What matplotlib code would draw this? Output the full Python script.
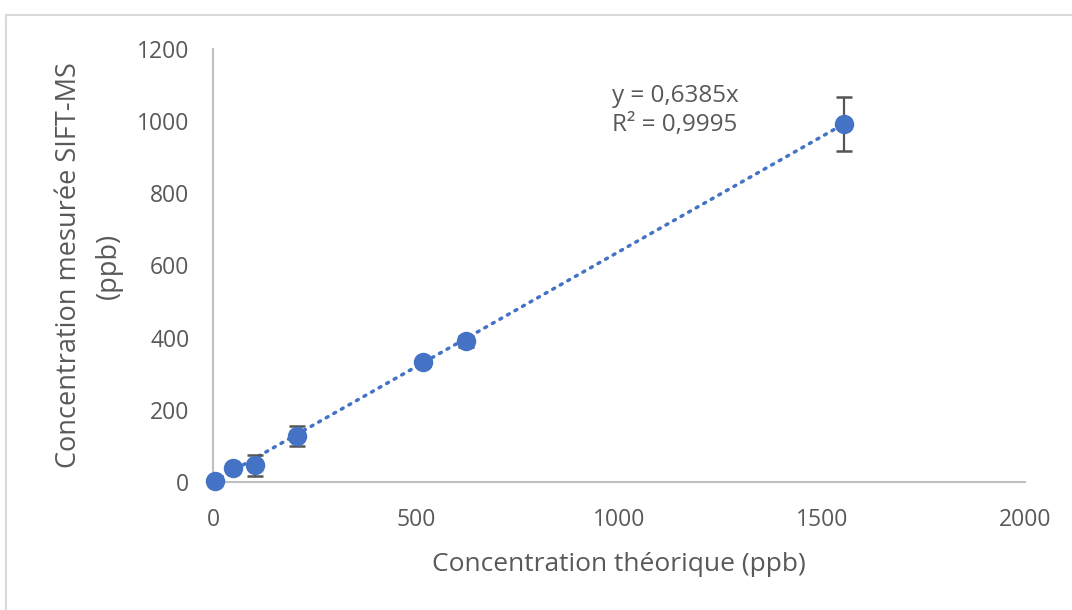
import matplotlib.pyplot as plt
from matplotlib.patches import Rectangle
import numpy as np

# ---- Data ----
conc_theo = [5, 50, 103, 207, 517, 623, 1554]
conc_mes = [3, 38, 46, 128, 332, 390, 992]
err_mes = [4, 8, 29, 28, 10, 15, 74]
slope = 0.6385
eq_text = "y = 0,6385x\nR² = 0,9995"

blue = '#4472C4'
grey_txt = '#595959'
axis_col = '#BFBFBF'

plt.rcParams['font.family'] = ['Open Sans', 'DejaVu Sans']

fig = plt.figure(figsize=(10.72, 6.1), dpi=100)
ax = fig.add_axes([213 / 1072, 1 - 482 / 610, (1025 - 213) / 1072, (482 - 49) / 610])

# chart frame (light grey, top and left visible)
fig.add_artist(Rectangle((6 / 1072, -0.1), 1.2, 1 - 15 / 610 + 0.1,
                         transform=fig.transFigure, fill=False,
                         edgecolor='#D9D9D9', linewidth=1.5))

# trendline through origin
xt = np.array([0, max(conc_theo)])
ax.plot(xt, slope * xt, linestyle=(0, (0.6, 1.9)), dash_capstyle='round',
        color=blue, linewidth=2.5, zorder=2)

ax.errorbar(conc_theo, conc_mes, yerr=err_mes, fmt='o', color=blue,
            markersize=13, ecolor='#555555', elinewidth=1.6, capsize=5.5,
            capthick=1.8, zorder=3, clip_on=False)

ax.set_xlim(0, 2000)
ax.set_ylim(0, 1200)
ax.set_xticks(range(0, 2001, 500))
ax.set_yticks(range(0, 1201, 200))
ax.tick_params(length=0, labelsize=16.5, labelcolor=grey_txt)
ax.tick_params(axis='y', pad=17)
ax.tick_params(axis='x', pad=19)

for s in ['top', 'right']:
    ax.spines[s].set_visible(False)
for s in ['left', 'bottom']:
    ax.spines[s].set_color(axis_col)
    ax.spines[s].set_linewidth(1.5)

ax.set_xlabel('Concentration théorique (ppb)', fontsize=19, color=grey_txt, labelpad=14)
ax.set_ylabel('Concentration mesurée SIFT-MS\n(ppb)', fontsize=19.5, color=grey_txt,
              labelpad=10, linespacing=1.6)

ax.text(983, 1030, eq_text, fontsize=17.5, color=grey_txt, va='center',
        linespacing=1.3)

fig.savefig('out.png', dpi=100)
